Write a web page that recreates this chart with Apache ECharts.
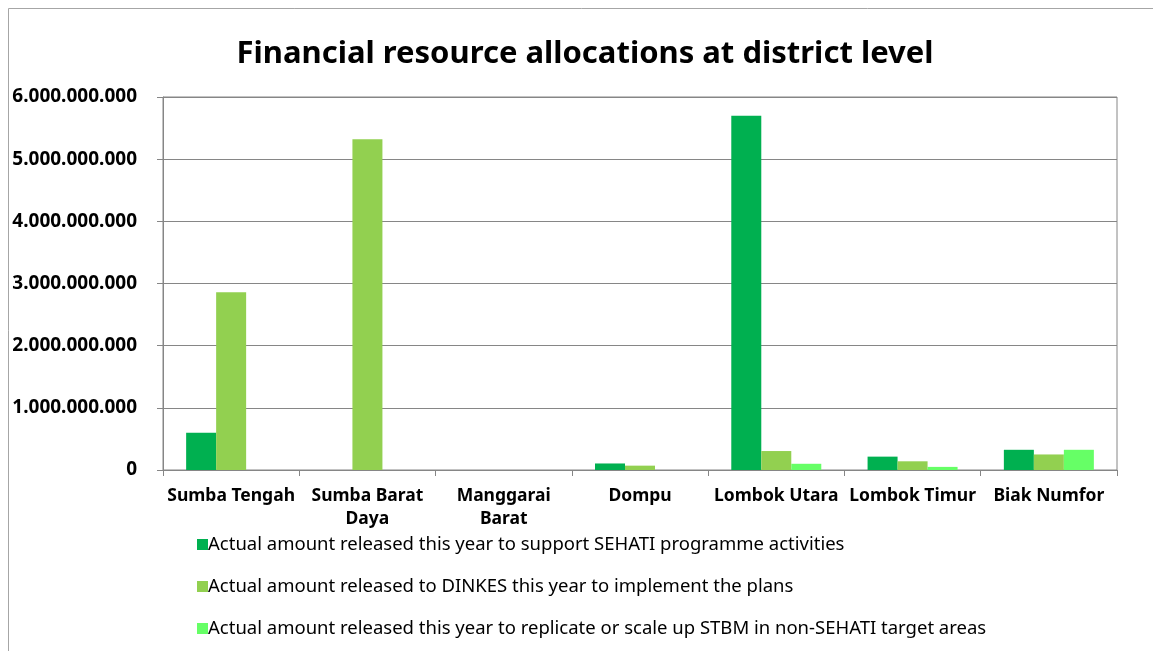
<!DOCTYPE html>
<html>
<head>
<meta charset="utf-8">
<script src="https://cdn.jsdelivr.net/npm/echarts@6/dist/echarts.min.js"></script>
<style>html,body{margin:0;padding:0;background:#fff}#c{width:1153px;height:651px}</style>
</head>
<body>
<div id="c"></div>
<script>
const categories = ['Sumba Tengah', 'Sumba Barat\nDaya', 'Manggarai\nBarat', 'Dompu', 'Lombok Utara', 'Lombok Timur', 'Biak Numfor'];
const seriesNames = [
  'Actual amount released this year to support SEHATI programme activities',
  'Actual amount released to DINKES this year to implement the plans',
  'Actual amount released this year to replicate or scale up STBM in non-SEHATI target areas'
];
const sehatiValues = [600000000, 0, 0, 105000000, 5700000000, 215000000, 325000000];
const dinkesValues = [2860000000, 5320000000, 0, 70000000, 305000000, 140000000, 250000000];
const stbmValues = [0, 0, 0, 0, 100000000, 50000000, 325000000];
const yTicks = [0, 1000000000, 2000000000, 3000000000, 4000000000, 5000000000, 6000000000];
const colors = ['#00B050', '#92D050', '#66FF66'];

const fmt = v => v === 0 ? '0' : String(v).replace(/\B(?=(\d{3})+(?!\d))/g, '.');
const font = 'Noto Sans';
const chart = echarts.init(document.getElementById('c'));
chart.setOption({
  animation: false,
  textStyle: { fontFamily: font },
  title: {
    text: 'Financial resource allocations at district level',
    left: 580, top: 34, textAlign: 'center',
    textStyle: { fontSize: 31, fontWeight: 'bold', color: '#000', fontFamily: font }
  },
  graphic: [{
    type: 'rect', shape: { x: 8.5, y: 8.5, width: 1200, height: 700 },
    style: { fill: 'none', stroke: '#a6a6a6', lineWidth: 1 }, silent: true
  }],
  grid: { left: 163, right: 36, top: 97, bottom: 181, show: true, borderColor: '#868686', borderWidth: 1 },
  legend: {
    orient: 'vertical', left: 192, top: 530, itemGap: 23,
    itemWidth: 11, itemHeight: 11, icon: 'rect',
    textStyle: { fontSize: 18.5, color: '#000', fontFamily: font, padding: [0, 0, 0, -5] },
    data: seriesNames
  },
  xAxis: {
    type: 'category', data: categories,
    axisLine: { lineStyle: { color: '#868686' } },
    axisTick: { show: true, length: 6, lineStyle: { color: '#868686' } },
    axisLabel: { interval: 0, fontSize: 17.5, fontWeight: 'bold', color: '#000', lineHeight: 23, margin: 15, fontFamily: font }
  },
  yAxis: {
    type: 'value', min: 0, max: 6000000000, interval: 1000000000,
    axisLine: { show: true, lineStyle: { color: '#868686' } },
    axisTick: { show: true, length: 6, lineStyle: { color: '#868686' } },
    splitLine: { lineStyle: { color: '#868686' } },
    axisLabel: { fontSize: 19, fontWeight: 'bold', color: '#000', margin: 26, fontFamily: font,
      formatter: v => yTicks.includes(v) ? fmt(v) : '' }
  },
  series: [sehatiValues, dinkesValues, stbmValues].map((d, i) => ({
    name: seriesNames[i], type: 'bar', data: d, barWidth: 30, barGap: '0%',
    itemStyle: { color: colors[i] }
  }))
});
</script>
</body>
</html>
